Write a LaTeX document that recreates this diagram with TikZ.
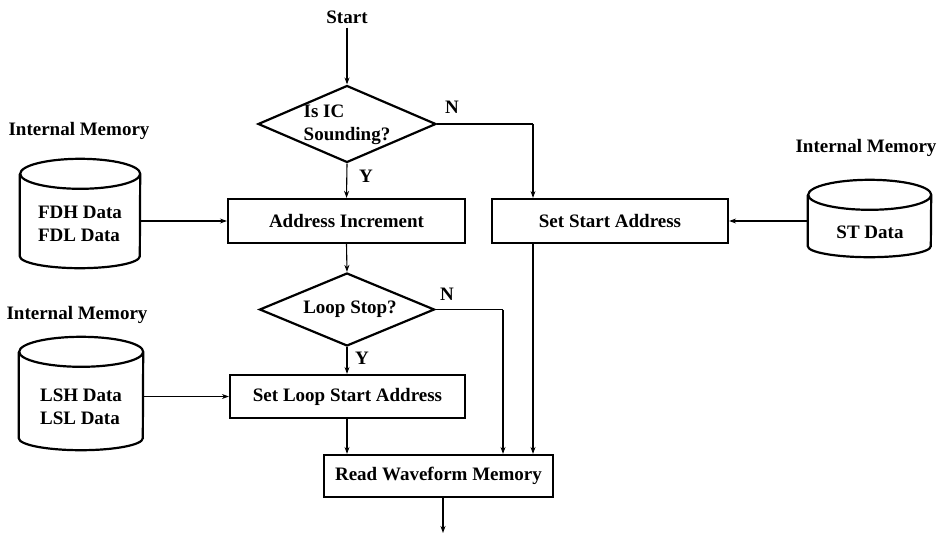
\documentclass[tikz,border=0pt]{standalone}
\usepackage{fontspec}
\setmainfont{Liberation Serif}
\usetikzlibrary{shapes.geometric,arrows.meta}
\newcommand\cylout[4]{% node, half width, top ry, bottom ry
  \draw[boxline] ([yshift=-#3]#1.north west) -- ([yshift=#4]#1.south west)
    arc[start angle=180,end angle=360,x radius=#2,y radius=#4]
    -- ([yshift=-#3]#1.north east)
    arc[start angle=0,end angle=360,x radius=#2,y radius=#3];
}
\begin{document}
\begin{tikzpicture}[x=1pt,y=-1pt,
  txt/.style={font=\bfseries\fontsize{19}{23}\selectfont, inner sep=0pt, align=left},
  boxline/.style={line width=2.2pt, line join=miter},
  procbox/.style={draw, boxline, rectangle, inner sep=0pt, font=\bfseries\fontsize{19}{23}\selectfont},
  decbox/.style={draw, boxline, diamond, inner sep=0pt},
  cylnode/.style={rectangle, inner sep=0pt},
  arr/.style={line width=1.1pt, -{Stealth[length=7pt,width=5pt]}},
  conn/.style={line width=1.1pt}]
\useasboundingbox[fill=white] (0,0) rectangle (944,537);

% main flow
\node[txt] (start) at (347,17) {Start};
\node[decbox, minimum width=178pt, minimum height=77pt] (d1) at (347,124) {};
\node[txt] (d1t) at (347,125) {Is IC\\Sounding?};
\node[txt] (n1) at (452,107) {N};
\node[txt] (y1) at (366,176) {Y};

\node[procbox, minimum width=237pt, minimum height=44pt] (ai) at (346.5,221) {Address Increment};
\node[procbox, minimum width=236pt, minimum height=44pt] (ssa) at (610,221) {Set Start Address};

\node[decbox, minimum width=175pt, minimum height=73pt] (d2) at (347,309.5) {};
\node[txt] (d2t) at (350,309) {Loop Stop?};
\node[txt] (n2) at (447,294) {N};
\node[txt] (y2) at (362,358) {Y};

\node[procbox, minimum width=235pt, minimum height=43pt] (sla) at (347.5,396.5) {Set Loop Start Address};
\node[procbox, minimum width=229pt, minimum height=42pt] (rwm) at (438.5,476) {Read Waveform Memory};

% memories
\node[txt] (im1) at (79,131) {Internal Memory};
\node[cylnode, minimum width=120pt, minimum height=109pt] (fdh) at (80,213.5) {};
\cylout{fdh}{60pt}{15pt}{12pt}
\node[txt] (fdht) at (80,224) {FDH Data\\FDL Data};

\node[txt] (im2) at (866,148) {Internal Memory};
\node[cylnode, minimum width=123pt, minimum height=77pt] (st) at (869.5,218.5) {};
\cylout{st}{61.5pt}{15pt}{11pt}
\node[txt] (stt) at (870,232) {ST Data};

\node[txt] (im3) at (77,315) {Internal Memory};
\node[cylnode, minimum width=124pt, minimum height=113pt] (lsh) at (81,393.5) {};
\cylout{lsh}{62pt}{15pt}{12pt}
\node[txt] (lsht) at (81,407) {LSH Data\\LSL Data};

% connector helper coordinates
\coordinate (n1c) at (533,124);
\coordinate (n2c) at (503,309.5);
\coordinate (endc) at (443,533);

% connectors
\draw[arr] (start.south) ++(0,4) -- (d1.north);
\draw[arr] (d1.south) -- (ai.north);
\draw[conn] (d1.east) -- (n1c);
\draw[arr] (n1c) -- (n1c |- ssa.north);
\draw[arr] (fdh.east |- ai.west) -- (ai.west);
\draw[arr] (st.west |- ssa.east) -- (ssa.east);
\draw[arr] (ai.south) -- (d2.north);
\draw[arr] (d2.south) -- (d2.south |- sla.north);
\draw[conn] (d2.east) -- (n2c);
\draw[arr] (n2c) -- (n2c |- rwm.north);
\draw[arr] (n1c |- ssa.south) -- (n1c |- rwm.north);
\draw[arr] (lsh.east |- sla.west) -- (sla.west);
\draw[arr] (sla.south -| d2.south) -- (d2.south |- rwm.north);
\draw[arr] (endc |- rwm.south) -- (endc);
\end{tikzpicture}
\end{document}
